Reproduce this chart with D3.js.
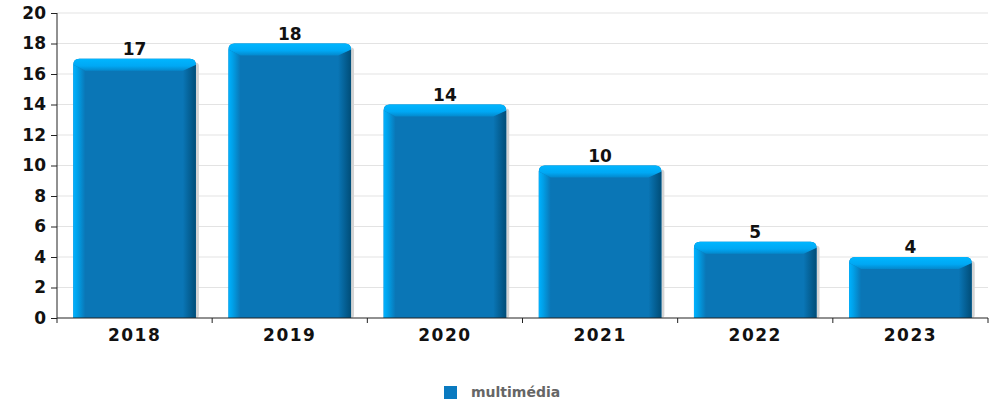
<!DOCTYPE html>
<html><head><meta charset="utf-8">
<script src="https://cdn.jsdelivr.net/npm/d3@7"></script>
<style>body{margin:0;background:#fff}svg{display:block}text{font-family:"DejaVu Sans",sans-serif}</style>
</head><body>
<svg id="c" width="994" height="404"></svg>
<script>
const categories = ["2018","2019","2020","2021","2022","2023"];
const values = [17,18,14,10,5,4];
const yTicks = [0,2,4,6,8,10,12,14,16,18,20];
const seriesName = "multimédia";

const svg = d3.select("#c");
const m = {l:57, r:988, t:13, b:318};
const x = d3.scaleBand().domain(categories).range([m.l, m.r]).paddingInner(0.21).paddingOuter(0.105);
const y = d3.scaleLinear().domain([0,20]).range([m.b, m.t]);

const defs = svg.append("defs");
function grad(id, stops, vertical){
  const gr = defs.append("linearGradient").attr("id",id).attr("x1",0).attr("y1",0)
    .attr("x2",vertical?0:1).attr("y2",vertical?1:0);
  stops.forEach(s=>gr.append("stop").attr("offset",s[0]).attr("stop-color",s[1]));
}
grad("lft",[[0,"#00b2ff"],[0.35,"#00a0e8"],[1,"#0a76b6"]]);
grad("rgt",[[0,"#0a76b6"],[1,"#004d78"]]);
grad("top",[[0,"#00b6ff"],[0.6,"#00a8f4"],[1,"#0488cc"]],true);

// grid
svg.append("g").selectAll("line").data(yTicks.slice(1)).join("line")
  .attr("x1",m.l).attr("x2",m.r).attr("y1",d=>y(d)).attr("y2",d=>y(d))
  .attr("stroke","#e3e3e3").attr("stroke-width",1);

// bars
const bw = x.bandwidth(), bevL = 12, bevR = 13, bevT = 12, r = 6;
const g = svg.append("g").selectAll("g").data(categories).join("g");
g.each(function(c,i){
  const s = d3.select(this);
  const x0 = x(c), x1 = x0 + bw, yt = y(values[i]), yb = y(0);
  s.append("rect").attr("x",x0+3).attr("y",yt+4).attr("width",bw).attr("height",yb-yt-4).attr("rx",3).attr("fill","#d4d4d4");
  s.append("path").attr("d",`M${x0},${yb}V${yt+r}Q${x0},${yt} ${x0+r},${yt}H${x1-r}Q${x1},${yt} ${x1},${yt+r}V${yb}Z`).attr("fill","#0a76b6");
  s.append("path").attr("d",`M${x0},${yb}V${yt+r}L${x0+bevL},${yt+bevT}V${yb}Z`).attr("fill","url(#lft)");
  s.append("path").attr("d",`M${x1},${yb}V${yt+r}L${x1-bevR},${yt+bevT}V${yb}Z`).attr("fill","url(#rgt)");
  s.append("path").attr("d",`M${x0},${yt+r}Q${x0},${yt} ${x0+r},${yt}H${x1-r}Q${x1},${yt} ${x1},${yt+r}L${x1-bevR},${yt+bevT}H${x0+bevL}Z`).attr("fill","url(#top)");
  s.append("text").attr("x",x0+bw/2).attr("y",yt-4).attr("text-anchor","middle")
    .attr("font-size",17).attr("font-weight","bold").attr("fill","#111").text(values[i]);
});

// y axis
const ya = svg.append("g").attr("transform",`translate(${m.l},0)`)
  .call(d3.axisLeft(y).tickValues(yTicks).tickSize(6).tickPadding(5));
ya.select(".domain").attr("stroke","#222").attr("d",`M0,${m.b}V${m.t}`);
ya.selectAll(".tick line").attr("stroke","#222");
ya.selectAll("text").attr("font-size",17).attr("font-weight","bold").attr("fill","#111").attr("font-family","DejaVu Sans");

// x axis
const xa = svg.append("g").attr("transform",`translate(0,${m.b})`)
  .call(d3.axisBottom(x).tickSize(0).tickPadding(11));
xa.select(".domain").attr("stroke","#222").attr("d",`M${m.l},0H${m.r}`);
xa.selectAll("text").attr("font-size",17).attr("font-weight","bold").attr("fill","#111")
  .attr("font-family","DejaVu Sans").attr("letter-spacing","1.5px");
const bounds = categories.map(c=>x(c)-x.step()*x.paddingInner()/2).concat([m.r]);
xa.append("g").selectAll("line").data(bounds).join("line")
  .attr("x1",d=>d).attr("x2",d=>d).attr("y1",0).attr("y2",5).attr("stroke","#222");

// legend
const lgG = svg.append("g").attr("transform","translate(444,386)");
lgG.append("rect").attr("width",13).attr("height",13).attr("fill","#0a7ac0");
lgG.append("text").attr("x",27).attr("y",11).attr("font-size",14).attr("font-weight","bold").attr("fill","#666").text(seriesName);
</script>
</body></html>
